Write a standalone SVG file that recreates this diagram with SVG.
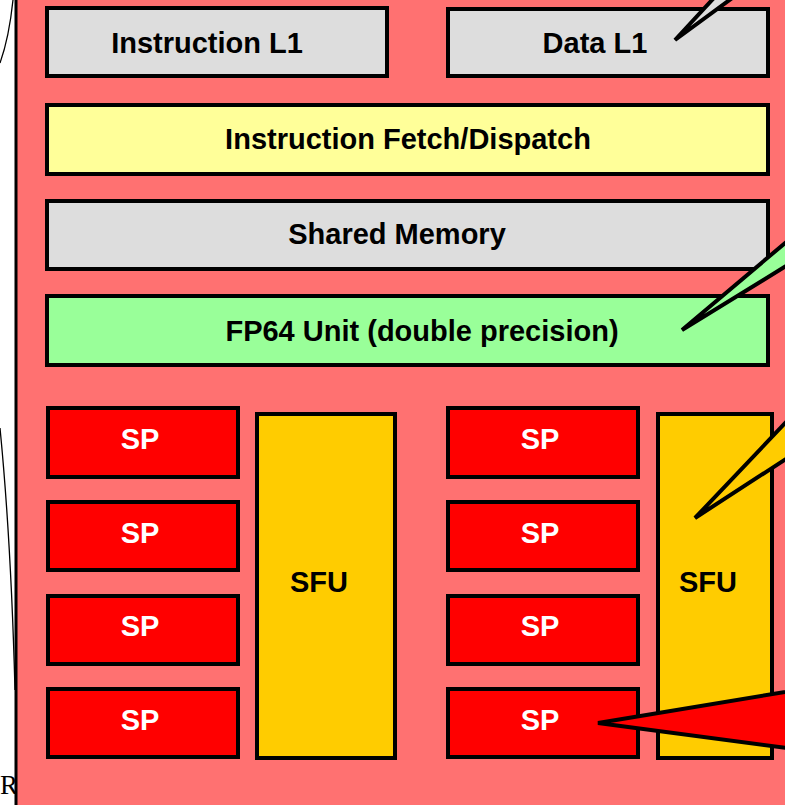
<svg xmlns="http://www.w3.org/2000/svg" width="785" height="805" viewBox="0 0 785 805">
<style>
.box{stroke:#000;stroke-width:4}
.t{font-family:"Liberation Sans",Arial,sans-serif;font-weight:bold;font-size:29px;text-anchor:middle}
.callout{stroke:#000;stroke-width:4;stroke-linejoin:miter;stroke-miterlimit:4}
</style>
<rect width="785" height="805" fill="#fff"/>
<g id="left-curves" fill="none" stroke="#000" stroke-width="1.3">
<path d="M13,0 Q9,38 0,63"/>
<path d="M0,428 Q11,540 15,690"/>
</g>
<text x="0" y="794" font-family="'Liberation Serif',serif" font-size="27">R</text>
<rect id="sm" x="16" y="-10" width="800" height="830" fill="#FF7171" stroke="#000" stroke-width="3"/>
<g id="instr-l1"><rect class="box" x="47" y="8" width="340" height="68" fill="#DDDDDD"/><text class="t" x="207" y="53">Instruction L1</text></g>
<g id="data-l1"><rect class="box" x="448" y="9" width="320" height="67" fill="#DDDDDD"/><text class="t" x="595" y="53">Data L1</text></g>
<g id="fetch"><rect class="box" x="47" y="105" width="721" height="69" fill="#FFFF99"/><text class="t" x="408" y="149">Instruction Fetch/Dispatch</text></g>
<g id="shared"><rect class="box" x="47" y="201" width="721" height="68" fill="#DDDDDD"/><text class="t" x="397" y="244">Shared Memory</text></g>
<g id="fp64"><rect class="box" x="47" y="296" width="721" height="69" fill="#99FF99"/><text class="t" x="422" y="341">FP64 Unit (double precision)</text></g>
<g id="sp-l1"><rect class="box" x="48" y="408" width="190" height="69" fill="#FF0000"/><text class="t" x="140" y="449" fill="#fff">SP</text></g>
<g id="sp-l2"><rect class="box" x="48" y="502" width="190" height="68" fill="#FF0000"/><text class="t" x="140" y="543" fill="#fff">SP</text></g>
<g id="sp-l3"><rect class="box" x="48" y="596" width="190" height="68" fill="#FF0000"/><text class="t" x="140" y="636" fill="#fff">SP</text></g>
<g id="sp-l4"><rect class="box" x="48" y="689" width="190" height="68" fill="#FF0000"/><text class="t" x="140" y="730" fill="#fff">SP</text></g>
<g id="sfu-l"><rect class="box" x="257" y="414" width="138" height="344" fill="#FFCC00"/><text class="t" x="319" y="592">SFU</text></g>
<g id="sp-r1"><rect class="box" x="448" y="408" width="190" height="69" fill="#FF0000"/><text class="t" x="540" y="449" fill="#fff">SP</text></g>
<g id="sp-r2"><rect class="box" x="448" y="502" width="190" height="68" fill="#FF0000"/><text class="t" x="540" y="543" fill="#fff">SP</text></g>
<g id="sp-r3"><rect class="box" x="448" y="596" width="190" height="68" fill="#FF0000"/><text class="t" x="540" y="636" fill="#fff">SP</text></g>
<g id="sp-r4"><rect class="box" x="448" y="689" width="190" height="68" fill="#FF0000"/><text class="t" x="540" y="730" fill="#fff">SP</text></g>
<g id="sfu-r"><rect class="box" x="658" y="414" width="114" height="344" fill="#FFCC00"/><text class="t" x="708" y="592">SFU</text></g>
<g id="callouts">
<polygon class="callout" points="675,40 749,-40 784,-40" fill="#DDDDDD"/>
<polygon class="callout" points="682,330 900,146 900,196" fill="#99FF99"/>
<polygon class="callout" points="695,518 900,302 900,385" fill="#FFCC00"/>
<polygon class="callout" points="598,723 900,673 900,763" fill="#FF0000"/>
</g>
</svg>
